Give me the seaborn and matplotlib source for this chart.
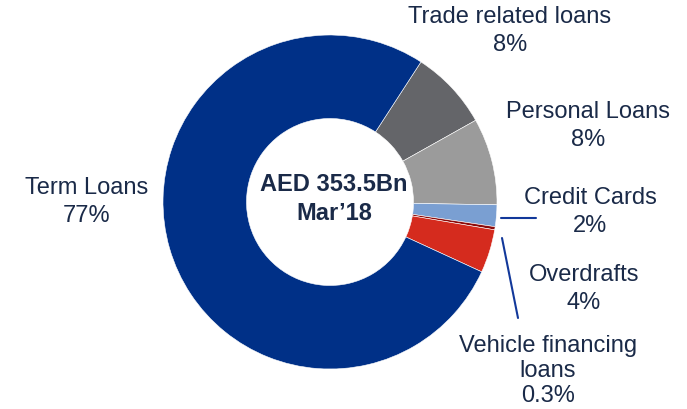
#!/usr/bin/env python3
"""
Loan portfolio breakdown donut chart.
"""
import matplotlib
matplotlib.use('Agg')
import matplotlib.pyplot as plt
import seaborn as sns

# Data (clockwise, starting at the top-right)
categories = ['Trade related loans', 'Personal Loans', 'Credit Cards',
              'Vehicle financing loans', 'Overdrafts', 'Term Loans']
shares = [7.7, 8.4, 2.1, 0.3, 4.2, 77.3]
pct_labels = ['8%', '8%', '2%', '0.3%', '4%', '77%']
colors = ['#646569', '#9b9b9b', '#7a9fd2', '#8b0a0a', '#d52b1e', '#003087']
center_text = 'AED 353.5Bn\nMar\u201918'

TEXT = '#1a2a48'
LINE = '#12389a'

sns.set_theme(style='white')
plt.rcParams['font.family'] = ['Liberation Sans', 'DejaVu Sans']

W, H = 687, 410
CX, CY, R = 330, 203, 167

fig = plt.figure(figsize=(W / 100, H / 100), dpi=100)
ax = fig.add_axes([(CX - R) / W, (H - CY - R) / H, 2 * R / W, 2 * R / H])

ax.pie(shares, colors=colors, startangle=57, counterclock=False, radius=1,
       wedgeprops=dict(width=0.5, edgecolor='white', linewidth=0.4))
ax.set_xlim(-1, 1)
ax.set_ylim(-1, 1)
ax.set_aspect('equal')
ax.axis('off')


def px(x, y):
    """Pixel position in the reference -> data coords of the pie axes."""
    return (x - CX) / R, (CY - y) / R


ax.text(*px(334, 199), center_text, ha='center', va='center', fontsize=17,
        fontweight='bold', color=TEXT, linespacing=1.3)

# Label positions (pixel centres in the reference image)
label_pos = [(510, 31), (588, 126), (590, 212), (548, 371), (584, 289), (87, 202)]
for cat, pct, (x, y) in zip(categories, pct_labels, label_pos):
    name = 'Vehicle financing\nloans' if cat.startswith('Vehicle') else cat
    spacing = 1.2 if cat.startswith('Vehicle') else 1.3
    ax.text(*px(x, y), f'{name}\n{pct}', ha='center', va='center',
            fontsize=17, color=TEXT, linespacing=spacing)

# Leader lines
for (x0, y0), (x1, y1) in [((501, 219), (536, 219)), ((502, 239), (518, 319))]:
    ax.plot(*zip(px(x0, y0), px(x1, y1)), color=LINE, lw=1.5, clip_on=False)

fig.savefig('out.png', dpi=100)
print('Plot saved to: out.png')
